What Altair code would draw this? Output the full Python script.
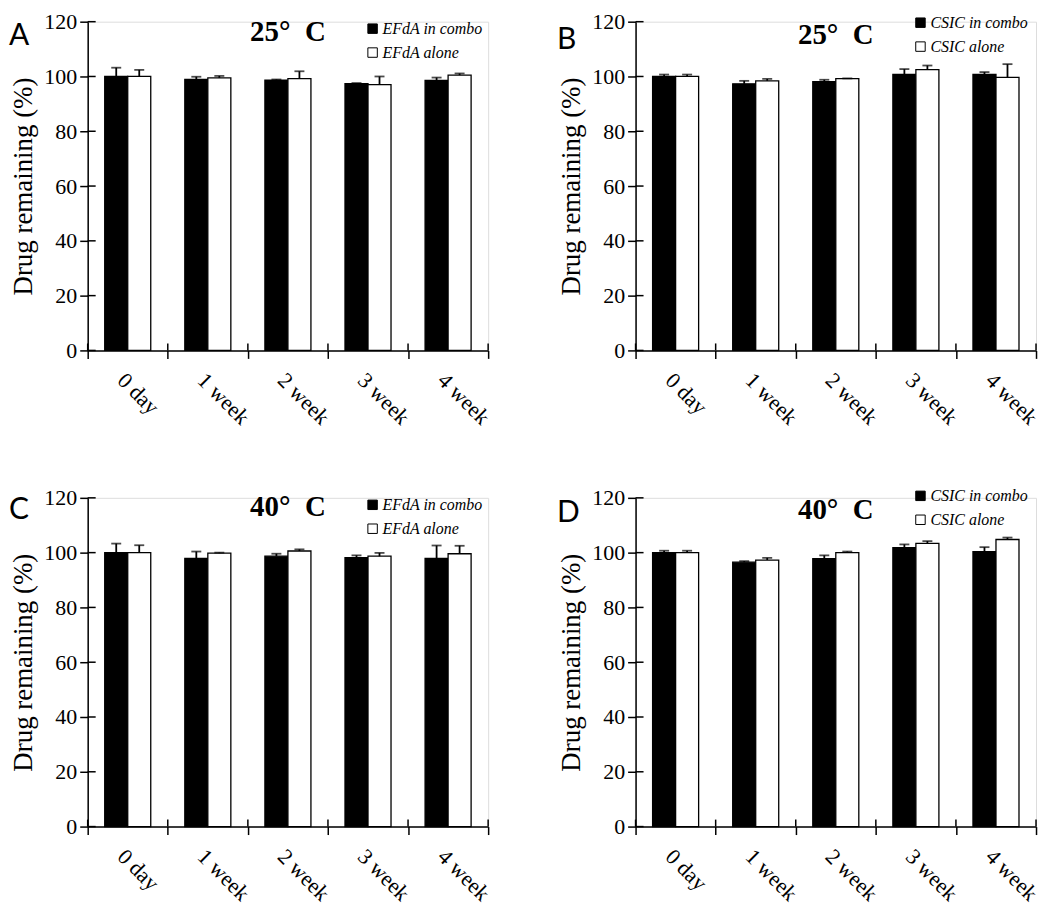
import altair as alt
import pandas as pd

times = ["0 day", "1 week", "2 week", "3 week", "4 week"]
y_ticks = [0, 20, 40, 60, 80, 100, 120]

a_combo = [100.0, 98.9, 98.7, 97.4, 98.6]
a_combo_err = [3.2, 1.0, 0.2, 0.2, 1.0]
a_alone = [100.0, 99.5, 99.2, 97.0, 100.5]
a_alone_err = [2.4, 0.7, 2.7, 3.0, 0.6]

b_combo = [100.0, 97.3, 98.1, 100.8, 100.8]
b_combo_err = [0.7, 1.1, 0.7, 1.9, 0.8]
b_alone = [100.0, 98.4, 99.2, 102.5, 99.7]
b_alone_err = [0.7, 0.7, 0.1, 1.5, 4.8]

c_combo = [100.0, 97.9, 98.7, 98.2, 97.9]
c_combo_err = [3.3, 2.5, 0.9, 0.8, 4.7]
c_alone = [100.0, 99.8, 100.6, 98.7, 99.6]
c_alone_err = [2.7, 0.2, 0.6, 1.2, 2.9]

d_combo = [100.0, 96.5, 97.8, 101.8, 100.4]
d_combo_err = [0.7, 0.4, 1.2, 1.2, 1.6]
d_alone = [100.0, 97.3, 100.0, 103.4, 104.8]
d_alone_err = [0.7, 0.8, 0.4, 0.8, 0.7]

W, H = 402, 330
SERIF = "Liberation Serif"


def make_df(names, combo, combo_err, alone, alone_err):
    rows = []
    for i, t in enumerate(times):
        rows.append({"time": t, "series": names[0], "value": combo[i], "upper": combo[i] + combo_err[i]})
        rows.append({"time": t, "series": names[1], "value": alone[i], "upper": alone[i] + alone_err[i]})
    return pd.DataFrame(rows)


def panel(letter, title, names, combo, combo_err, alone, alone_err, title_dy, letter_dy, leg_y):
    df = make_df(names, combo, combo_err, alone, alone_err)
    base = alt.Chart(df)
    xenc = alt.X("time:N", sort=times, title=None,
                 scale=alt.Scale(paddingInner=0, paddingOuter=0),
                 axis=alt.Axis(labelAngle=45, labelFontSize=22, labelFont=SERIF, labelColor="black",
                               tickBand="extent", tickSize=8, tickWidth=1.5, tickColor="black",
                               domainColor="black", domainWidth=1.5, labelPadding=11,
                               labelAlign="left", labelBaseline="top"))
    xoff = alt.XOffset("series:N", sort=names, scale=alt.Scale(paddingInner=0, paddingOuter=0.74))
    yenc = alt.Y("value:Q", scale=alt.Scale(domain=[0, 120], nice=False),
                 axis=alt.Axis(values=y_ticks, title="Drug remaining (%)", titleFont=SERIF,
                               titleFontSize=27, titleFontWeight="normal", titleColor="black",
                               titlePadding=6, labelFont=SERIF, labelFontSize=22, labelColor="black",
                               tickSize=8, tickWidth=1.5, tickColor="black", labelPadding=3,
                               domainColor="black", domainWidth=1.5, grid=False))
    bars = base.mark_bar(stroke="black", strokeWidth=1.3).encode(
        x=xenc, xOffset=xoff, y=yenc,
        fill=alt.Fill("series:N", sort=names,
                      scale=alt.Scale(domain=names, range=["black", "white"]),
                      legend=alt.Legend(orient="none", legendX=278, legendY=leg_y, title=None,
                                        labelFont=SERIF, labelFontStyle="italic", labelFontSize=16,
                                        labelColor="black", symbolType="square", symbolSize=90,
                                        symbolStrokeColor="black", symbolStrokeWidth=1,
                                        rowPadding=8, labelOffset=2, padding=0)),
    )
    err = base.mark_rule(color="black", strokeWidth=1.8).encode(
        x=alt.X("time:N", sort=times), xOffset=alt.XOffset("series:N", sort=names),
        y=alt.Y("value:Q"), y2="upper:Q")
    cap = base.mark_tick(color="black", thickness=1.8, size=10).encode(
        x=alt.X("time:N", sort=times), xOffset=alt.XOffset("series:N", sort=names),
        y=alt.Y("upper:Q"))
    tick_df = pd.DataFrame({"v": y_ticks})
    ytick_in = alt.Chart(tick_df).mark_rule(color="black", strokeWidth=1.5).encode(
        y=alt.Y("v:Q"), x=alt.value(0), x2=alt.value(8))
    time_df = pd.DataFrame({"time": times})
    xtick_in = alt.Chart(time_df).mark_rule(color="black", strokeWidth=1.5).encode(
        x=alt.X("time:N", sort=times, bandPosition=0), y=alt.value(H), y2=alt.value(H - 7))
    xtick_end = alt.Chart(time_df.head(1)).mark_rule(color="black", strokeWidth=1.5).encode(
        x=alt.value(W), y=alt.value(H), y2=alt.value(H - 7))
    lab_df = pd.DataFrame({"t": [title], "l": [letter]})
    title_txt = alt.Chart(lab_df).mark_text(font=SERIF, fontSize=29, fontWeight="bold",
                                            color="black", align="center", baseline="middle").encode(
        text="t:N", x=alt.value(W / 2), y=alt.value(title_dy))
    letter_txt = alt.Chart(lab_df).mark_text(font="Lato", fontSize=30, color="black",
                                             align="left", baseline="middle").encode(
        text="l:N", x=alt.value(-79), y=alt.value(letter_dy))
    return alt.layer(bars, err, cap, ytick_in, xtick_in, xtick_end, title_txt, letter_txt).properties(
        width=W, height=H)


deg25 = "25°\u00a0\u00a0C"
deg40 = "40°\u00a0\u00a0C"
pA = panel("A", deg25, ["EFdA in combo", "EFdA alone"], a_combo, a_combo_err, a_alone, a_alone_err, 10, 14, -1)
pB = panel("B", deg25, ["CSIC in combo", "CSIC alone"], b_combo, b_combo_err, b_alone, b_alone_err, 13, 18, -7)
pC = panel("C", deg40, ["EFdA in combo", "EFdA alone"], c_combo, c_combo_err, c_alone, c_alone_err, 9, 12, -1)
pD = panel("D", deg40, ["CSIC in combo", "CSIC alone"], d_combo, d_combo_err, d_alone, d_alone_err, 12, 15, -10)

chart = alt.concat(pA, pB, pC, pD, columns=2, spacing=alt.RowColnumber(row=57, column=62)).resolve_scale(
    fill="independent", x="independent", y="independent", xOffset="independent"
).resolve_legend(fill="independent").properties(padding=0).configure_view(stroke=None).configure(
    background="white")

chart.save("out.html", embed_options={"renderer": "svg", "actions": False})
